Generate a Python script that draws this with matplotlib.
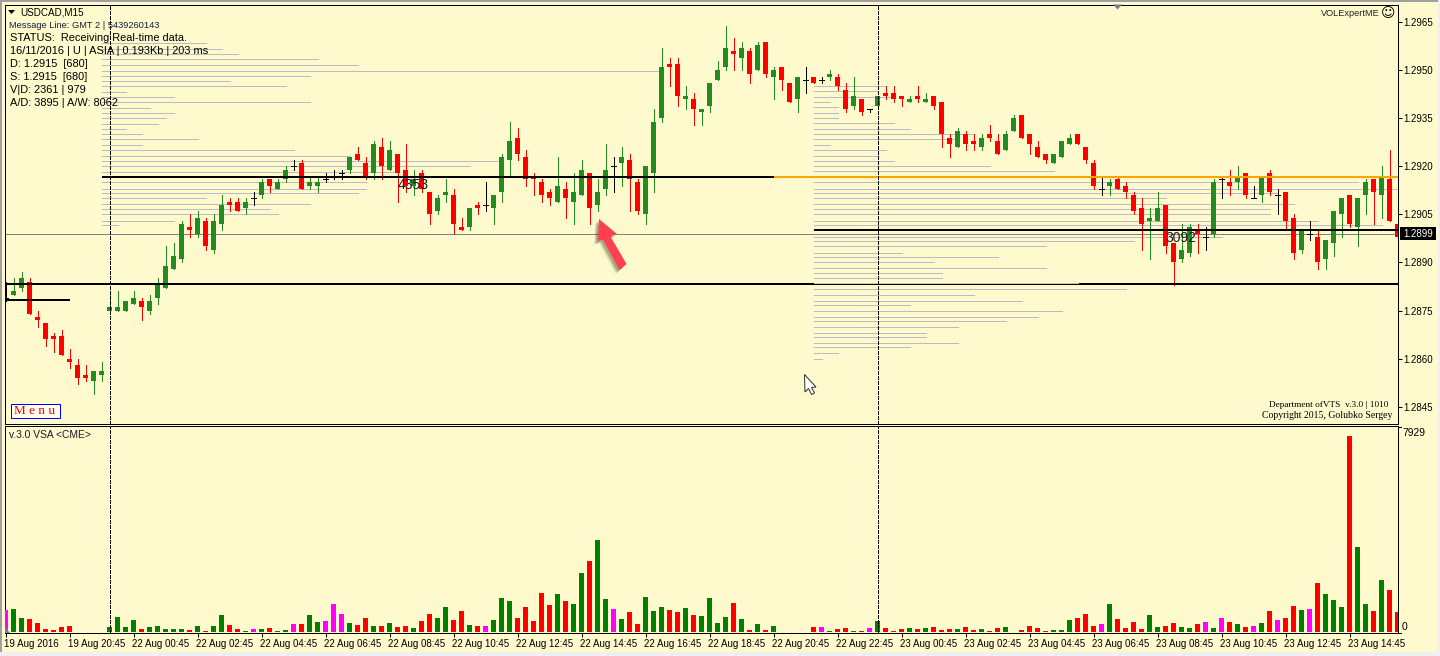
import numpy as np
import matplotlib
matplotlib.use("Agg")
import matplotlib.pyplot as plt
from matplotlib.patches import Polygon, Rectangle
from matplotlib.transforms import ScaledTranslation

W, H = 1440, 656

# candles, prices in 1/10000
price_open = [12879,12880,12882,12884,12873,12871,12867,12867,12860,12858,
              12855,12853,12855,12875,12875,12875,12877,12878,12875,12879,
              12882,12888,12891,12901,12899,12903,12894,12902,12909,12909,
              12907,12910,12911,12916,12913,12916,12920,12921,12914,12914,
              12916,12917,12918,12919,12924,12921,12918,12926,12919,12924,
              12919,12914,12918,12912,12906,12911,12911,12901,12901,12908,
              12908,12907,12912,12922,12929,12923,12917,12915,12912,12909,
              12913,12909,12911,12918,12908,12913,12920,12921,12922,12915,
              12905,12918,12935,12952,12952,12941,12941,12937,12939,12947,
              12951,12956,12954,12956,12950,12959,12948,12951,12946,12941,
              12947,12948,12947,12948,12948,12944,12939,12941,12938,12939,
              12943,12943,12942,12940,12942,12940,12942,12940,12929,12926,
              12930,12928,12926,12930,12928,12925,12931,12936,12930,12926,
              12924,12921,12923,12927,12930,12926,12921,12913,12914,12916,
              12914,12911,12907,12903,12903,12908,12896,12891,12893,12900,
              12898,12899,12916,12915,12915,12918,12910,12911,12918,12911,
              12912,12904,12894,12899,12898,12891,12896,12905,12911,12901,
              12911,12916,12911,12916,12902]
price_high = [12884,12885,12887,12885,12875,12871,12868,12869,12863,12860,
              12858,12856,12859,12880,12881,12878,12881,12879,12880,12885,
              12895,12896,12903,12905,12906,12904,12905,12911,12910,12910,
              12910,12912,12916,12916,12916,12920,12922,12922,12917,12917,
              12918,12919,12919,12923,12926,12923,12928,12929,12928,12924,
              12927,12919,12919,12912,12911,12916,12913,12904,12907,12909,
              12915,12911,12924,12934,12932,12925,12918,12916,12913,12923,
              12915,12918,12922,12918,12916,12927,12923,12926,12924,12916,
              12920,12938,12957,12954,12954,12945,12943,12938,12946,12953,
              12964,12960,12959,12957,12959,12959,12951,12951,12946,12948,
              12951,12948,12948,12950,12949,12946,12948,12941,12938,12942,
              12945,12945,12942,12942,12945,12943,12942,12940,12930,12932,
              12931,12930,12930,12933,12930,12931,12936,12936,12930,12928,
              12924,12924,12928,12930,12930,12926,12922,12917,12916,12917,
              12915,12912,12910,12907,12912,12908,12896,12902,12902,12902,
              12901,12916,12917,12919,12920,12918,12914,12917,12919,12913,
              12912,12905,12900,12903,12900,12897,12906,12910,12911,12910,
              12916,12916,12920,12925,12912]
price_low = [12878,12880,12881,12874,12870,12864,12862,12861,12857,12852,
             12853,12849,12853,12875,12875,12875,12877,12872,12874,12877,
             12882,12888,12890,12898,12898,12894,12893,12900,12906,12906,
             12905,12908,12910,12912,12913,12915,12919,12913,12913,12912,
             12915,12916,12916,12918,12922,12916,12916,12916,12919,12909,
             12912,12911,12912,12902,12905,12909,12899,12900,12900,12905,
             12906,12902,12909,12917,12922,12914,12911,12909,12908,12909,
             12904,12902,12911,12902,12906,12911,12912,12914,12906,12905,
             12902,12912,12934,12945,12939,12938,12933,12933,12937,12947,
             12950,12950,12950,12946,12950,12948,12941,12944,12940,12937,
             12943,12946,12946,12947,12944,12937,12938,12936,12937,12938,
             12941,12940,12939,12940,12940,12940,12938,12926,12923,12926,
             12925,12925,12925,12928,12924,12925,12931,12929,12924,12923,
             12921,12921,12923,12927,12927,12921,12913,12911,12911,12913,
             12910,12905,12894,12891,12903,12893,12883,12890,12892,12893,
             12894,12898,12910,12911,12913,12910,12910,12909,12911,12905,
             12900,12891,12893,12897,12888,12888,12892,12898,12901,12895,
             12905,12902,12904,12903,12898]
price_close = [12879,12881,12885,12874,12872,12866,12866,12861,12859,12854,
               12854,12856,12856,12876,12876,12878,12879,12876,12878,12883,
               12889,12892,12902,12900,12904,12895,12903,12908,12908,12906,
               12909,12910,12915,12914,12915,12919,12920,12913,12915,12915,
               12916,12917,12918,12923,12922,12917,12927,12920,12925,12918,
               12914,12916,12913,12905,12910,12912,12902,12900,12907,12907,
               12908,12911,12923,12928,12924,12916,12916,12911,12910,12914,
               12910,12912,12919,12907,12912,12919,12920,12923,12916,12906,
               12920,12934,12951,12951,12942,12942,12938,12938,12946,12950,
               12957,12955,12957,12949,12958,12949,12950,12947,12940,12948,
               12947,12946,12947,12949,12945,12938,12942,12937,12938,12942,
               12942,12941,12941,12941,12941,12941,12939,12930,12927,12931,
               12927,12927,12929,12929,12924,12930,12935,12929,12927,12923,
               12922,12924,12928,12929,12927,12922,12914,12913,12915,12913,
               12912,12906,12902,12904,12907,12895,12890,12894,12901,12899,
               12898,12915,12916,12914,12917,12911,12910,12917,12912,12911,
               12903,12893,12900,12899,12890,12897,12906,12910,12902,12910,
               12915,12912,12917,12903,12898]

volume = [900,940,580,540,380,135,95,215,255,0,
          0,0,0,215,620,215,500,135,215,255,
          135,135,135,95,255,55,255,700,295,135,
          55,135,135,175,55,95,335,335,700,415,
          455,1145,740,375,295,580,255,255,375,215,
          255,175,455,740,580,1020,500,860,295,255,
          255,500,1385,1265,580,1020,455,1590,1100,1545,
          1265,1145,2395,2880,3725,1345,940,540,820,335,
          1425,860,1020,900,820,980,700,660,1385,375,
          620,1185,540,95,335,95,255,0,0,0,
          0,215,215,55,135,175,55,55,175,455,
          175,55,135,175,135,175,215,95,135,135,
          200,80,120,40,160,200,15,80,240,160,
          40,80,80,485,565,725,240,325,1130,525,
          160,405,120,685,200,240,365,200,160,325,
          405,160,565,405,325,200,240,365,850,485,
          565,1050,890,930,1980,1535,1290,1010,7929,3430,
          1130,850,2100,1695,805]
volume_kind = ("mggrrrrrr-" "---ggggrgg" "gggrgrggrr" "gmgrggmrgg" "mmmgrrgrgr"
               "rgrrggrrgr" "mgggrrrrrg" "rggrggmgrr" "gggrrgrggg" "grgrgrg---"
               "-rmgrrgrmg" "rrrgrgrrrg" "rrgrrggrrr" "rgggrrrmgr" "rrrggrrggr"
               "mgmrgrmgrm" "rrgmrgggrg" "grgrr")

# market profiles: price level, length counted in bars
left_levels = [12958.5,12956.8,12955.2,12953.5,12951.8,12949.9,12948.4,12946.7,12945.0,
               12943.4,12941.8,12940.0,12938.4,12936.6,12935.0,12933.4,12931.6,12930.0,
               12928.5,12926.6,12925.0,12923.3,12921.6,12920.0,12918.4,12915.0,12913.1,
               12911.6,12910.0,12908.3,12906.6,12905.0,12903.1,12901.6]
left_lengths = [13,15,17,27,32,70,26,16,23,3,9,26,6,9,8,7,3,5,12,5,24,31,50,46,37,33,33,32,
                13,26,21,22,9,2]
right_levels = [12945.1,12943.5,12941.6,12940.1,12938.5,12936.6,12935.1,12933.5,12931.6,12930.1,
                12928.5,12926.6,12925.1,12923.2,12921.6,12920.1,12918.5,12915.0,12913.1,12911.6,
                12910.0,12908.3,12906.6,12905.0,12903.1,12901.6,12898.1,12896.6,12895.0,12893.1,
                12891.6,12890.0,12888.2,12886.6,12885.0,12881.6,12880.0,12878.1,12876.6,12875.0,
                12873.1,12871.6,12870.0,12868.1,12866.6,12865.0,12863.5,12861.6,12860.0]
right_lengths = [9,8,10,2,3,3,3,10,12,20,18,2,9,8,10,22,30,68,75,58,44,60,57,57,63,71,51,40,29,
                 11,23,15,29,16,16,39,20,26,12,31,28,24,18,14,14,18,12,3,1]

price_ticks = [1.2965,1.2950,1.2935,1.2920,1.2905,1.2890,1.2875,1.2860,1.2845]
time_labels = ["19 Aug 2016","19 Aug 20:45","22 Aug 00:45","22 Aug 02:45","22 Aug 04:45",
               "22 Aug 06:45","22 Aug 08:45","22 Aug 10:45","22 Aug 12:45","22 Aug 14:45",
               "22 Aug 16:45","22 Aug 18:45","22 Aug 20:45","22 Aug 22:45","23 Aug 00:45",
               "23 Aug 02:45","23 Aug 04:45","23 Aug 06:45","23 Aug 08:45","23 Aug 10:45",
               "23 Aug 12:45","23 Aug 14:45"]
info_lines = ["STATUS:  Receiving Real-time data.",
              "16/11/2016 | U | ASIA | 0.193Kb | 203 ms",
              "D: 1.2915  [680]",
              "S: 1.2915  [680]",
              "V|D: 2361 | 979",
              "A/D: 3895 | A/W: 8062"]

BG = "#FFFACD"
CANDLE_GREEN = "#228B22"
VOL_COLORS = {"g": "#008000", "r": "#FF0000", "m": "#FF00FF", "-": "#FF0000"}
PROFILE = "#BBBBC6"
PX = 0.72  # one screen pixel in points
SANS = "Liberation Sans"

plt.rcParams["font.family"] = [SANS, "DejaVu Sans"]
plt.rcParams["font.size"] = 8


def pane(left, top, right, bottom):
    ax = fig.add_axes([left / W, 1 - bottom / H, (right - left) / W, (bottom - top) / H])
    ax.set_facecolor(BG)
    for s in ax.spines.values():
        s.set_linewidth(PX)
    ax.set_xlim((left - 5.5) / 8, (right - 5.5) / 8)
    return ax


fig = plt.figure(figsize=(W / 100, H / 100), dpi=100, facecolor=BG)
ax1 = pane(4.5, 4.5, 1397.5, 423.5)
ax2 = pane(4.5, 425.5, 1397.5, 632.8)

o = np.array(price_open) / 1e4
h = np.array(price_high) / 1e4
l = np.array(price_low) / 1e4
c = np.array(price_close) / 1e4
bars = np.arange(len(o))
body_w = 5 / 8

# price pane
ax1.set_ylim(1.28397, 1.29706)
ax1.hlines(np.array(left_levels) / 1e4, 12, 12 + np.array(left_lengths),
           color=PROFILE, lw=PX, zorder=1, antialiased=False)
ax1.hlines(np.array(right_levels) / 1e4, 101, 101 + np.array(right_lengths),
           color=PROFILE, lw=PX, zorder=1, antialiased=False)
ax1.axhline(1.2899, color="#808080", lw=PX, zorder=1.5, antialiased=False)

up = c > o
down = c < o
flat = c == o
wick_colors = np.where(up, CANDLE_GREEN, np.where(down, "#FF0000", "#000000"))
ax1.vlines(bars, l, h, colors=wick_colors, lw=PX, zorder=2, antialiased=False)
ax1.bar(bars[up], (c - o)[up], bottom=o[up], width=body_w, color=CANDLE_GREEN, lw=0, zorder=3, antialiased=False)
ax1.bar(bars[down], (o - c)[down], bottom=c[down], width=body_w, color="#FF0000", lw=0, zorder=3, antialiased=False)
ax1.hlines(o[flat], bars[flat] - body_w / 2, bars[flat] + body_w / 2, color="#000000", lw=PX, zorder=3, antialiased=False)

# level lines
ax1.hlines(1.28833, 0, 174.1, color="#000000", lw=2 * PX, zorder=4, antialiased=False)
ax1.hlines(1.28836, 101, 134, color="#C8C8B4", lw=PX, zorder=4.5, antialiased=False)
ax1.hlines(1.28783, 0, 8, color="#000000", lw=2 * PX, zorder=4, antialiased=False)
ax1.hlines(1.29167, 12, 96, color="#000000", lw=2 * PX, zorder=4, antialiased=False)
ax1.hlines(1.29167, 96, 174.1, color="#FFA500", lw=2 * PX, zorder=4, antialiased=False)
ax1.hlines(1.29001, 101, 174.1, color="#000000", lw=2 * PX, zorder=4, antialiased=False)

ax1.set_yticks(price_ticks)
ax1.set_yticklabels(["%.4f" % p for p in price_ticks], fontsize=7)
ax1.yaxis.tick_right()
ax1.tick_params(axis="y", length=3, width=PX, pad=1)
ax1.set_xticks([])

# volume pane
ax2.set_ylim(-20, 8353)
ax2.bar(bars, volume, width=body_w, color=[VOL_COLORS[k] for k in volume_kind], lw=0, zorder=3, antialiased=False)
ax2.set_yticks([])
ax2.set_xticks(bars[::8])
ax2.set_xticklabels(time_labels, ha="left", fontsize=7)
ax2.tick_params(axis="x", length=3, width=PX, pad=1.5)
shift = ScaledTranslation(-1.5 / 100, 0, fig.dpi_scale_trans)
for lab in ax2.get_xticklabels():
    lab.set_transform(lab.get_transform() + shift)

for ax in (ax1, ax2):
    ax.axvline(13, color="#000000", lw=PX, ls=(0, (4, 2)), zorder=5, antialiased=False)
    ax.axvline(109, color="#000000", lw=PX, ls=(0, (4, 2)), zorder=5, antialiased=False)

# everything that sits on top, in screen pixels
ov = fig.add_axes([0, 0, 1, 1], facecolor="none", zorder=10)
ov.set_xlim(0, W)
ov.set_ylim(H, 0)
ov.axis("off")

# window edges
ov.add_patch(Rectangle((0, 0), W, 1.5, color="#A0A0A0", lw=0))
ov.add_patch(Rectangle((0, 0), 1.5, H, color="#A0A0A0", lw=0))
ov.add_patch(Rectangle((0, 652), W, 4, color="#F0F0F0", lw=0))
ov.add_patch(Rectangle((1437.5, 0), 2.5, H, color="#F0F0F0", lw=0))

# last price tag
ov.add_patch(Rectangle((1400, 227), 36, 13, color="#000000", lw=0))
ov.text(1418, 233.8, "1.2899", color="white", ha="center", va="center", fontsize=7)

ov.add_patch(Polygon([(8, 10), (15, 10), (11.5, 14)], color="#000000", lw=0))
ov.text(20, 12.5, "USDCAD,M15", va="center", fontsize=7.1)
ov.text(9, 25.5, "Message Line: GMT 2 | 5439260143", va="center", fontsize=6.7, color="#10203A")
for k, line in enumerate(info_lines):
    ov.text(10, 38 + 13 * k, line, va="center", fontsize=7.9)

ov.text(1380, 13.5, "VOLExpertME", ha="right", va="center", fontsize=6.6, color="#222222")
ov.text(1388, 13.5, "\u263a", ha="center", va="center", fontsize=10, family="DejaVu Sans")
ov.add_patch(Polygon([(1113, 4.5), (1122, 4.5), (1117.5, 9.5)], color="#708090", lw=0))

ov.text(413, 185, "4353", ha="center", va="center", fontsize=10, color="#1A1A2A")
ov.text(1181, 238, "3092", ha="center", va="center", fontsize=10, color="#1A1A2A")

ov.text(1388, 405, "Department ofVTS  v.3.0 | 1010", ha="right", va="center",
        fontsize=6.7, family="Liberation Serif")
ov.text(1392, 415.5, "Copyright 2015, Golubko Sergey", ha="right", va="center",
        fontsize=7, family="Liberation Serif")

ov.add_patch(Rectangle((10.5, 403.5), 49, 14, fc="#FFFFF0", ec="#0000FF", lw=PX))
ov.text(35, 410.5, "M e n u", ha="center", va="center", color="#FF0000", fontsize=9.5,
        family="Liberation Serif")

ov.text(9, 434.5, "v.3.0 VSA <CME>", va="center", fontsize=7.4, color="#1A1A2A")
ov.text(1402, 432.5, "7929", va="center", fontsize=7.4)
ov.text(1402, 627, "0", va="center", fontsize=7.4)
ov.plot([1397.5, 1400.5], [427, 427], color="#000000", lw=PX)
ov.plot([1397.5, 1400.5], [632.5, 632.5], color="#000000", lw=PX)
ov.add_patch(Polygon([(5, 627), (5, 632.5), (10, 632.5)], color="#808080", lw=0))

# red arrow with its soft shadow
arrow_pts = [(599, 219), (617, 234), (610.5, 236.5), (626.5, 264), (619.5, 270), (603, 239.5), (598, 241)]
for dx, alpha in ((4, 0.08), (3, 0.12), (2, 0.18)):
    ov.add_patch(Polygon([(x - dx, y + dx) for x, y in arrow_pts], color="#000000", alpha=alpha, lw=0))
ov.add_patch(Polygon(arrow_pts, color="#FF4050", lw=0))

# mouse pointer
ov.add_patch(Polygon([(804.5, 374.5), (816, 387), (811.5, 387.5), (814.5, 393), (811.5, 394.5),
                      (808.5, 388.5), (805, 392)], fc="white", ec="#303030", lw=PX))

fig.savefig("out.png", dpi=100, facecolor=BG)
